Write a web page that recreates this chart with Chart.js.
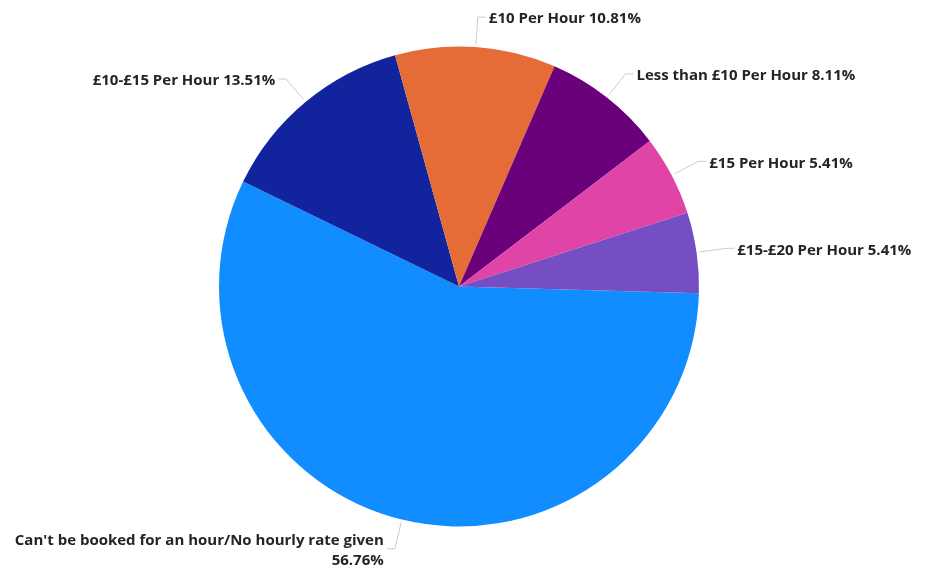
<!DOCTYPE html>
<html>
<head>
<meta charset="utf-8">
<script src="https://cdn.jsdelivr.net/npm/chart.js@4"></script>
<style>
  html, body { margin: 0; padding: 0; background: #ffffff; }
  #wrap { width: 925px; height: 569px; position: relative; }
</style>
</head>
<body>
<div id="wrap"><canvas id="chart" width="925" height="569"></canvas></div>
<script>
// Hourly rate categories and their share of responses (%)
const categories = [
  "Can't be booked for an hour/No hourly rate given",
  "£10-£15 Per Hour",
  "£10 Per Hour",
  "Less than £10 Per Hour",
  "£15 Per Hour",
  "£15-£20 Per Hour"
];
const shares = [56.76, 13.51, 10.81, 8.11, 5.41, 5.41];
const sliceColors = ['#118DFF', '#12239E', '#E66C37', '#6B007B', '#E044A7', '#744EC2'];

const LABEL_FONT = 'bold 15px "Open Sans", "Noto Sans", sans-serif';
const LINE_HEIGHT = 20;

// Draws outside labels with a radial leader line and a short horizontal elbow
const outsideLabels = {
  id: 'outsideLabels',
  afterDatasetsDraw(chart) {
    const ctx = chart.ctx;
    const meta = chart.getDatasetMeta(0);
    const data = chart.data.datasets[0].data;
    ctx.save();
    ctx.font = LABEL_FONT;
    meta.data.forEach((arc, i) => {
      const p = arc.getProps(['x', 'y', 'startAngle', 'endAngle', 'outerRadius'], true);
      const mid = (p.startAngle + p.endAngle) / 2;
      const cx = Math.cos(mid), cy = Math.sin(mid);
      const r1 = p.outerRadius + 3, r2 = p.outerRadius + 30;
      const x1 = p.x + cx * r1, y1 = p.y + cy * r1;
      const x2 = p.x + cx * r2, y2 = p.y + cy * r2;
      const right = cx >= 0;
      const x3 = x2 + (right ? 8 : -8);

      ctx.strokeStyle = '#cccccc';
      ctx.lineWidth = 1;
      ctx.beginPath();
      ctx.moveTo(x1, y1);
      ctx.lineTo(x2, y2);
      ctx.lineTo(x3, y2);
      ctx.stroke();

      const name = chart.data.labels[i];
      const pct = data[i].toFixed(2) + '%';
      const tx = x3 + (right ? 3 : -3);
      const avail = right ? chart.width - tx - 2 : tx - 2;
      const full = name + ' ' + pct;
      const lines = ctx.measureText(full).width > avail ? [name, pct] : [full];

      ctx.fillStyle = '#252423';
      ctx.textAlign = right ? 'left' : 'right';
      ctx.textBaseline = 'middle';
      const top = y2 + 2 - (lines.length - 1) * LINE_HEIGHT / 2;
      lines.forEach((t, k) => ctx.fillText(t, tx, top + k * LINE_HEIGHT));
    });
    ctx.restore();
  }
};

new Chart(document.getElementById('chart'), {
  type: 'pie',
  data: {
    labels: categories,
    datasets: [{
      data: shares,
      backgroundColor: sliceColors,
      borderWidth: 0
    }]
  },
  options: {
    responsive: false,
    animation: false,
    rotation: 91.6,
    layout: { padding: { top: 46, bottom: 42, left: 219, right: 226 } },
    plugins: {
      legend: { display: false },
      tooltip: { enabled: false }
    }
  },
  plugins: [outsideLabels]
});
</script>
</body>
</html>
